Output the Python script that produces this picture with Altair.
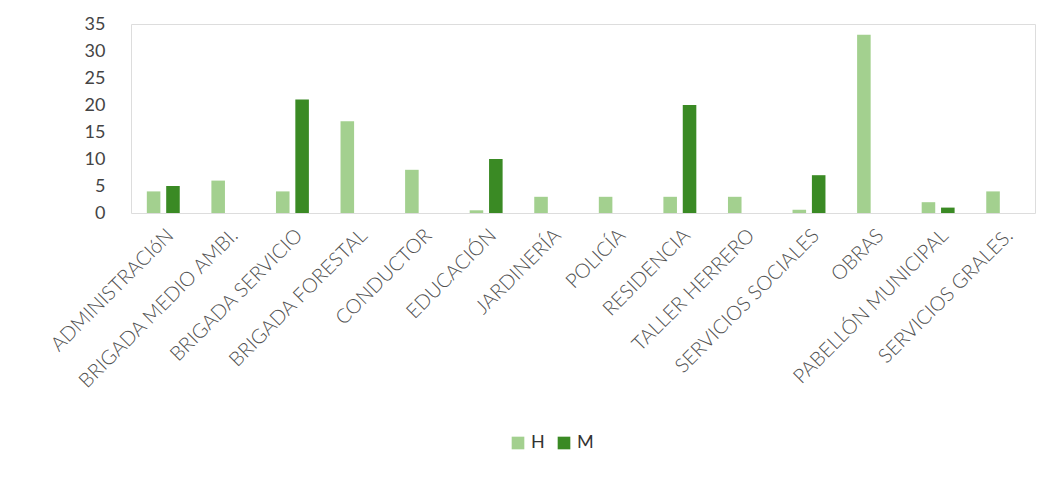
import altair as alt
import pandas as pd

categories = ["ADMINISTRACIóN", "BRIGADA MEDIO AMBI.", "BRIGADA SERVICIO", "BRIGADA FORESTAL",
              "CONDUCTOR", "EDUCACIÓN", "JARDINERÍA", "POLICÍA", "RESIDENCIA",
              "TALLER HERRERO", "SERVICIOS SOCIALES", "OBRAS", "PABELLÓN MUNICIPAL",
              "SERVICIOS GRALES."]
h_values = [4, 6, 4, 17, 8, 0.5, 3, 3, 3, 3, 0.6, 33, 2, 4]
m_values = [5, 0, 21, 0, 0, 10, 0, 0, 20, 0, 7, 0, 1, 0]
series = ["H", "M"]
colors = ["#a3d08f", "#3a8a24"]
y_ticks = [0, 5, 10, 15, 20, 25, 30, 35]

rows = []
for c, h, m in zip(categories, h_values, m_values):
    rows.append({"cat": c, "serie": "H", "v": h})
    rows.append({"cat": c, "serie": "M", "v": m})
df = pd.DataFrame(rows)

chart = alt.Chart(df).mark_bar().encode(
    x=alt.X("cat:N", sort=categories, title=None,
            scale=alt.Scale(paddingInner=0.49, paddingOuter=0.245),
            axis=alt.Axis(labelAngle=-45, labelFont="Lato", labelFontSize=20,
                          labelFontWeight=300,
                          labelColor="#505050", ticks=False, domain=False,
                          labelPadding=12, labelLimit=300)),
    xOffset=alt.XOffset("serie:N", sort=series, scale=alt.Scale(paddingInner=0.3)),
    y=alt.Y("v:Q", title=None, scale=alt.Scale(domain=[0, 35], nice=False),
            axis=alt.Axis(values=y_ticks, grid=False, ticks=False, domain=False,
                          labelFont="Lato", labelFontSize=18, labelColor="#444444",
                          labelPadding=26)),
    color=alt.Color("serie:N", sort=series,
                    scale=alt.Scale(domain=series, range=colors),
                    legend=alt.Legend(title=None, orient="none", direction="horizontal",
                                      legendX=378, legendY=410, symbolType="square",
                                      symbolSize=160, labelFont="Lato",
                                      labelFontSize=18, labelColor="#333333",
                                      columnPadding=10, symbolOpacity=1)),
).properties(
    width=904, height=189,
    autosize=alt.AutoSizeParams(type="none"),
    padding={"left": 131, "top": 24, "right": 13, "bottom": 264},
).configure_view(stroke="transparent").configure(background="white")

chart.save("out.html", embed_options={"renderer": "svg", "actions": False})
